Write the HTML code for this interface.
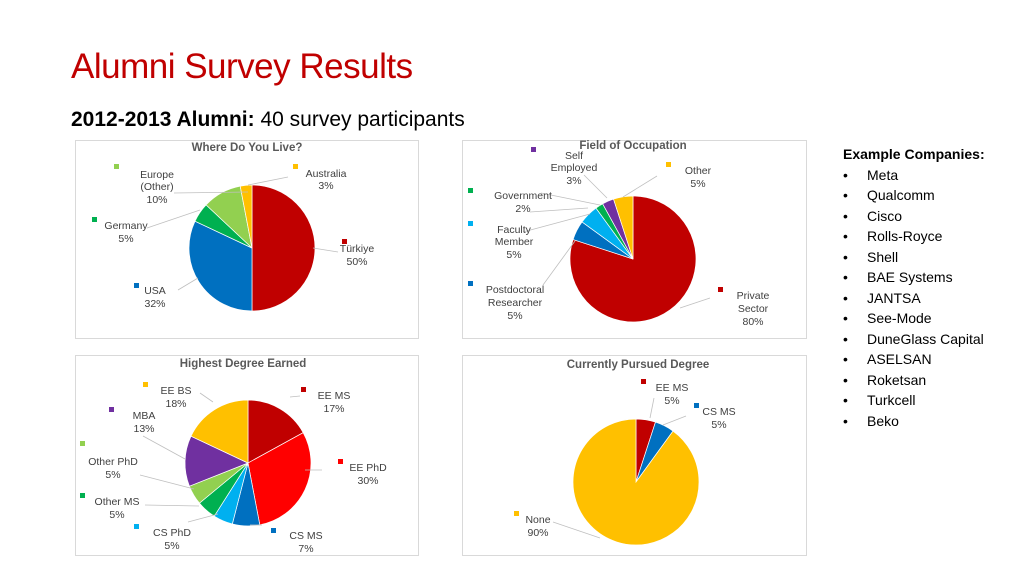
<!DOCTYPE html>
<html><head><meta charset="utf-8"><style>
html,body{margin:0;padding:0;background:#fff;}
body{width:1024px;height:576px;position:relative;overflow:hidden;font-family:"Liberation Sans",sans-serif;}
.t{position:absolute;left:71px;top:47px;font-size:35px;color:#C00000;letter-spacing:-0.5px;}
.s{position:absolute;left:71px;top:108px;font-size:21px;color:#000;}
.l{position:absolute;left:843px;top:144px;font-size:14px;color:#000;line-height:20.5px;}
.l ul{margin:0;padding:0;list-style:none;}
.l li:before{content:"•";display:inline-block;width:24px;}
svg{position:absolute;left:0;top:0;}
</style></head><body>
<div class="t">Alumni Survey Results</div>
<div class="s"><b>2012-2013 Alumni:</b> 40 survey participants</div>
<div class="l"><b>Example Companies:</b><ul>
<li>Meta</li><li>Qualcomm</li><li>Cisco</li><li>Rolls-Royce</li><li>Shell</li><li>BAE Systems</li><li>JANTSA</li><li>See-Mode</li><li>DuneGlass Capital</li><li>ASELSAN</li><li>Roketsan</li><li>Turkcell</li><li>Beko</li></ul></div>
<svg id="g" width="1024" height="576" font-family="Liberation Sans, sans-serif" font-size="10.5" fill="#404040">
<g fill="#fff" stroke="#d9d9d9" stroke-width="1">
<rect x="75.5" y="140.5" width="343" height="198"/>
<rect x="462.5" y="140.5" width="344" height="198"/>
<rect x="75.5" y="355.5" width="343" height="200"/>
<rect x="462.5" y="355.5" width="344" height="200"/>
</g>
<g font-weight="bold" font-size="11.5" text-anchor="middle" fill="#595959">
<text x="247" y="151">Where Do You Live?</text>
<text x="633" y="149">Field of Occupation</text>
<text x="243" y="367">Highest Degree Earned</text>
<text x="638" y="368">Currently Pursued Degree</text>
</g>
<g id="pies"></g>
<g stroke="#bfbfbf" stroke-width="0.8" fill="none">
<path d="M174 193 L248 192"/><path d="M147 228 L200 210"/><path d="M178 290 L198 278"/><path d="M313 248 L338 252"/><path d="M248 185 L288 177"/>
<path d="M541 193 L600 205"/><path d="M530 212 L588 208"/><path d="M523 232 L590 214"/><path d="M543 285 L575 241"/><path d="M680 308 L710 298"/><path d="M657 176 L623 197"/><path d="M584 175 L607 198"/>
<path d="M200 393 L213 402"/><path d="M143 436 L185 459"/><path d="M140 475 L194 489"/><path d="M145 505 L199 506"/><path d="M188 522 L218 514"/><path d="M262 525 L250 525"/><path d="M322 470 L305 470"/><path d="M290 397 L300 396"/>
<path d="M553 522 L600 538"/><path d="M654 398 L650 418"/><path d="M686 416 L663 425"/>
</g>
<g text-anchor="middle">
<text x="157" y="178">Europe</text><text x="157" y="190">(Other)</text><text x="157" y="203">10%</text>
<text x="126" y="229">Germany</text><text x="126" y="242">5%</text>
<text x="155" y="294">USA</text><text x="155" y="307">32%</text>
<text x="357" y="252">Türkiye</text><text x="357" y="265">50%</text>
<text x="326" y="177">Australia</text><text x="326" y="189">3%</text>
<text x="574" y="159">Self</text><text x="574" y="171">Employed</text><text x="574" y="184">3%</text>
<text x="698" y="174">Other</text><text x="698" y="187">5%</text>
<text x="523" y="199">Government</text><text x="523" y="212">2%</text>
<text x="514" y="233">Faculty</text><text x="514" y="245">Member</text><text x="514" y="258">5%</text>
<text x="515" y="293">Postdoctoral</text><text x="515" y="306">Researcher</text><text x="515" y="319">5%</text>
<text x="753" y="299">Private</text><text x="753" y="312">Sector</text><text x="753" y="325">80%</text>
<text x="176" y="394">EE BS</text><text x="176" y="407">18%</text>
<text x="144" y="419">MBA</text><text x="144" y="432">13%</text>
<text x="113" y="465">Other PhD</text><text x="113" y="478">5%</text>
<text x="117" y="505">Other MS</text><text x="117" y="518">5%</text>
<text x="172" y="536">CS PhD</text><text x="172" y="549">5%</text>
<text x="306" y="539">CS MS</text><text x="306" y="552">7%</text>
<text x="334" y="399">EE MS</text><text x="334" y="412">17%</text>
<text x="368" y="471">EE PhD</text><text x="368" y="484">30%</text>
<text x="672" y="391">EE MS</text><text x="672" y="404">5%</text>
<text x="719" y="415">CS MS</text><text x="719" y="428">5%</text>
<text x="538" y="523">None</text><text x="538" y="536">90%</text>
</g>
<g id="mk"></g>
</svg>
<script>
function pie(cx,cy,r,data){var a=0,s="";data.forEach(function(d){var a0=a/100*2*Math.PI,a1=(a+d[0])/100*2*Math.PI;a+=d[0];
var x0=cx+r*Math.sin(a0),y0=cy-r*Math.cos(a0),x1=cx+r*Math.sin(a1),y1=cy-r*Math.cos(a1);
s+='<path d="M'+cx+' '+cy+' L'+x0+' '+y0+' A'+r+' '+r+' 0 '+(d[0]>50?1:0)+' 1 '+x1+' '+y1+' Z" fill="'+d[1]+'" stroke="#fff" stroke-width="0.7"/>';});return s;}
var R="#C00000",B="#0070C0",G="#00B050",LG="#92D050",Y="#FFC000",P="#7030A0",C="#00B0F0",RR="#FF0000";
var h=pie(252,248,63,[[50,R],[32,B],[5,G],[10,LG],[3,Y]]);
h+=pie(633,259,63,[[80,R],[5,B],[5,C],[2,G],[3,P],[5,Y]]);
h+=pie(248,463,63,[[17,R],[30,RR],[7,B],[5,C],[5,G],[5,LG],[13,P],[18,Y]]);
h+=pie(636,482,63,[[5,R],[5,B],[90,Y]]);
document.getElementById('pies').innerHTML=h;
var m=[[114,170,LG],[92,223,G],[134,289,B],[342,245,R],[293,170,Y],[531,153,P],[666,168,Y],[468,194,G],[468,227,C],[468,287,B],[718,293,R],[143,388,Y],[109,413,P],[80,447,LG],[80,499,G],[134,530,C],[271,534,B],[301,393,R],[338,465,RR],[641,385,R],[694,409,B],[514,517,Y]];
document.getElementById('mk').innerHTML=m.map(function(p){return '<rect x="'+p[0]+'" y="'+(p[1]-6)+'" width="5" height="5" fill="'+p[2]+'"/>'}).join('');
</script>
</body></html>
